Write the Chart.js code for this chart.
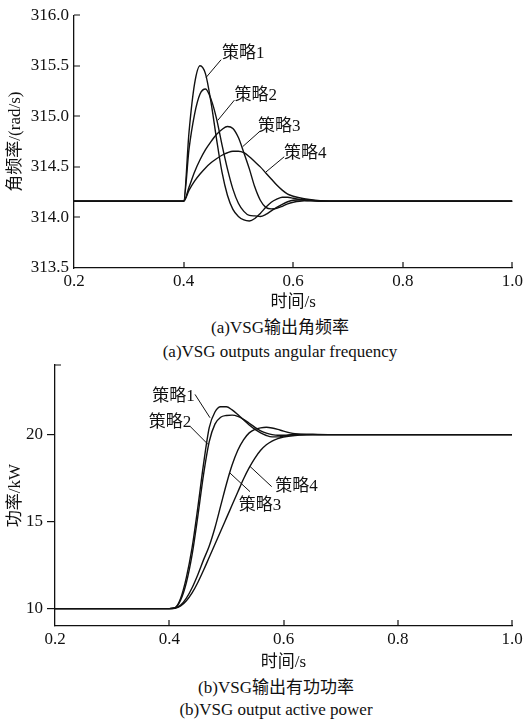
<!DOCTYPE html>
<html>
<head>
<meta charset="utf-8">
<script src="https://cdn.jsdelivr.net/npm/chart.js@4/dist/chart.umd.min.js"></script>
<style>
  body { margin: 0; background: #fff; width: 526px; height: 720px; position: relative; overflow: hidden; }
  canvas { position: absolute; left: 0; }
  .cap { position: absolute; left: 0; text-align: center; font: 17px "Liberation Serif", "Noto Sans CJK SC", serif; color: #111; line-height: 20px; white-space: nowrap; }
</style>
</head>
<body>
<canvas id="omega" width="526" height="315" style="top:0"></canvas>
<div class="cap" style="top:318px;width:560px">(a)VSG输出角频率</div>
<div class="cap" style="top:342px;width:560px">(a)VSG outputs angular frequency</div>
<canvas id="power" width="526" height="325" style="top:350px"></canvas>
<div class="cap" style="top:678px;width:552px">(b)VSG输出有功功率</div>
<div class="cap" style="top:700px;width:552px">(b)VSG output active power</div>
<script>
// sample instants (s)
const temps = [0.2, 0.4, 0.41, 0.42, 0.43, 0.44, 0.45, 0.46, 0.47, 0.48, 0.49, 0.50, 0.51, 0.52, 0.53,
  0.54, 0.55, 0.56, 0.57, 0.58, 0.59, 0.60, 0.62, 0.64, 0.66, 0.70, 1.0];

// angular frequency (rad/s), strategies 1..4
const omega1 = [314.16, 314.16, 314.85, 315.32, 315.50, 315.42, 315.14, 314.78, 314.45, 314.22, 314.08, 314.01,
  313.975, 313.965, 313.99, 314.04, 314.10, 314.15, 314.18, 314.20, 314.20, 314.19, 314.17, 314.165, 314.16, 314.16, 314.16];
const omega2 = [314.16, 314.16, 314.68, 315.02, 315.22, 315.27, 315.17, 314.98, 314.72, 314.48, 314.28, 314.14,
  314.06, 314.02, 314.015, 314.01, 314.03, 314.065, 314.10, 314.13, 314.155, 314.17, 314.175, 314.165, 314.16, 314.16, 314.16];
const omega3 = [314.16, 314.16, 314.30, 314.45, 314.57, 314.67, 314.75, 314.82, 314.87, 314.90, 314.88, 314.79,
  314.64, 314.48, 314.30, 314.17, 314.10, 314.085, 314.09, 314.11, 314.135, 314.15, 314.165, 314.165, 314.16, 314.16, 314.16];
const omega4 = [314.16, 314.16, 314.27, 314.36, 314.43, 314.49, 314.54, 314.58, 314.615, 314.64, 314.655, 314.655,
  314.64, 314.60, 314.55, 314.50, 314.44, 314.38, 314.32, 314.27, 314.23, 314.21, 314.185, 314.17, 314.163, 314.16, 314.16];

// active power (kW), strategies 1..4
const puissance1 = [10, 10, 10.05, 10.6, 11.8, 13.5, 15.8, 18.3, 20.4, 21.3, 21.6, 21.6, 21.42, 21.15, 20.85,
  20.55, 20.3, 20.1, 19.95, 19.87, 19.87, 19.92, 20.02, 20.03, 20.01, 20.0, 20.0];
const puissance2 = [10, 10, 10.04, 10.5, 11.5, 13.1, 15.3, 17.7, 19.6, 20.6, 21.0, 21.1, 21.12, 21.05, 20.88,
  20.65, 20.42, 20.22, 20.08, 20.0, 19.96, 19.96, 19.99, 20.0, 20.0, 20.0, 20.0];
const puissance3 = [10, 10, 10.03, 10.2, 10.6, 11.2, 11.95, 12.8, 13.6, 14.65, 15.9, 17.15, 18.25, 19.1, 19.7,
  20.1, 20.3, 20.39, 20.42, 20.38, 20.3, 20.2, 20.05, 20.0, 20.0, 20.0, 20.0];
const puissance4 = [10, 10, 10.02, 10.15, 10.45, 10.9, 11.5, 12.2, 12.95, 13.7, 14.45, 15.2, 15.95, 16.7, 17.45,
  18.1, 18.65, 19.1, 19.42, 19.63, 19.77, 19.86, 19.95, 19.99, 20.0, 20.0, 20.0];

const ticksTemps = [0.2, 0.4, 0.6, 0.8, 1.0];
const ticksOmega = [313.5, 314.0, 314.5, 315.0, 315.5, 316.0];
const ticksPuissance = [10, 15, 20];
const strategies = ['策略1', '策略2', '策略3', '策略4'];

const serif = '"Liberation Serif", "Noto Sans CJK SC", serif';
const ink = '#111';

function serie(vals, i) {
  return {
    label: strategies[i],
    data: temps.map((t, k) => ({ x: t, y: vals[k] })),
    borderColor: ink,
    borderWidth: 1.4,
    pointRadius: 0,
    fill: false,
    cubicInterpolationMode: 'monotone'
  };
}

// small ticks pointing into the plot area
function innerTicks(xs, ys, len) {
  return {
    id: 'innerTicks',
    afterDraw(chart) {
      const { ctx, chartArea: a, scales: { x, y } } = chart;
      ctx.save();
      ctx.strokeStyle = ink;
      ctx.lineWidth = 1.2;
      ctx.beginPath();
      xs.forEach(v => {
        const px = Math.round(x.getPixelForValue(v));
        ctx.moveTo(px, a.bottom);
        ctx.lineTo(px, a.bottom - len);
      });
      ys.forEach(v => {
        const py = Math.round(y.getPixelForValue(v));
        ctx.moveTo(a.left, py);
        ctx.lineTo(a.left + len, py);
      });
      ctx.stroke();
      ctx.restore();
    }
  };
}

// curve names with their leader lines
function notes(items) {
  return {
    id: 'notes',
    afterDatasetsDraw(chart) {
      const { ctx, scales: { x, y } } = chart;
      ctx.save();
      ctx.font = '17px ' + serif;
      ctx.fillStyle = ink;
      ctx.strokeStyle = ink;
      ctx.lineWidth = 1;
      ctx.textAlign = 'center';
      ctx.textBaseline = 'middle';
      items.forEach(n => {
        ctx.beginPath();
        ctx.moveTo(x.getPixelForValue(n.from[0]), y.getPixelForValue(n.from[1]));
        ctx.lineTo(x.getPixelForValue(n.to[0]), y.getPixelForValue(n.to[1]));
        ctx.stroke();
        ctx.fillText(n.text, x.getPixelForValue(n.at[0]), y.getPixelForValue(n.at[1]));
      });
      ctx.restore();
    }
  };
}

function echelles(o) {
  return {
    x: {
      type: 'linear', min: 0.2, max: 1.0,
      afterBuildTicks: s => { s.ticks = ticksTemps.map(v => ({ value: v })); },
      afterFit: s => { s.height = o.xh; },
      border: { display: true, color: ink, width: 1.3 },
      grid: { display: false, drawTicks: false },
      ticks: { color: ink, autoSkip: false, maxRotation: 0, padding: 3, font: { family: serif, size: 17 }, callback: v => v.toFixed(1) },
      title: { display: true, text: '时间/s', color: ink, font: { family: serif, size: 17 }, padding: { top: 0, bottom: 2 } }
    },
    y: {
      min: o.min, max: o.max,
      afterBuildTicks: s => { s.ticks = o.ticks.map(v => ({ value: v })); },
      afterFit: s => { s.width = o.yw; },
      border: { display: true, color: ink, width: 1.3 },
      grid: o.outside
        ? { display: true, drawOnChartArea: false, drawTicks: true, tickLength: 8, color: ink, lineWidth: 1.2 }
        : { display: false, drawTicks: false },
      ticks: { color: ink, autoSkip: false, padding: o.outside ? 4 : 5, font: { family: serif, size: 17 }, callback: o.fmt },
      title: { display: true, text: o.title, color: ink, font: { family: serif, size: 17 }, padding: { top: 5, bottom: 0 } }
    }
  };
}

const base = {
  responsive: false,
  animation: false,
  plugins: { legend: { display: false }, tooltip: { enabled: false } }
};

new Chart(document.getElementById('omega'), {
  type: 'line',
  data: { datasets: [omega1, omega2, omega3, omega4].map(serie) },
  options: Object.assign({}, base, {
    layout: { padding: { top: 15, right: 11, left: 0, bottom: 0 } },
    scales: echelles({ min: 313.5, max: 316, ticks: ticksOmega, yw: 74, xh: 47, title: '角频率/(rad/s)', fmt: v => v.toFixed(1) })
  }),
  plugins: [
    innerTicks([0.4, 0.6, 0.8, 1.0], [314.0, 314.5, 315.0, 315.5, 316.0], 6),
    notes([
      { text: strategies[0], at: [0.509, 315.62], from: [0.4685, 315.56], to: [0.4412, 315.385] },
      { text: strategies[1], at: [0.5318, 315.21], from: [0.4927, 315.16], to: [0.4624, 314.96] },
      { text: strategies[2], at: [0.5745, 314.896], from: [0.5382, 314.847], to: [0.5078, 314.70] },
      { text: strategies[3], at: [0.6218, 314.633], from: [0.5836, 314.60], to: [0.5504, 314.45] }
    ])
  ]
});

new Chart(document.getElementById('power'), {
  type: 'line',
  data: { datasets: [puissance1, puissance2, puissance3, puissance4].map(serie) },
  options: Object.assign({}, base, {
    layout: { padding: { top: 15, right: 14, left: 0, bottom: 0 } },
    scales: echelles({ min: 9, max: 24, ticks: ticksPuissance, yw: 55, xh: 49, title: '功率/kW', outside: true, fmt: v => String(v) })
  }),
  plugins: [
    innerTicks([0.4, 0.6, 0.8, 1.0], [24], 6),
    notes([
      { text: strategies[0], at: [0.4074, 22.17], from: [0.4451, 22.31], to: [0.4713, 20.97] },
      { text: strategies[1], at: [0.4013, 20.72], from: [0.4363, 20.48], to: [0.4684, 19.42] },
      { text: strategies[2], at: [0.5589, 15.95], from: [0.5414, 16.72], to: [0.5063, 17.79] },
      { text: strategies[3], at: [0.6228, 17.02], from: [0.5793, 17.01], to: [0.5414, 18.17] }
    ])
  ]
});
</script>
</body>
</html>
